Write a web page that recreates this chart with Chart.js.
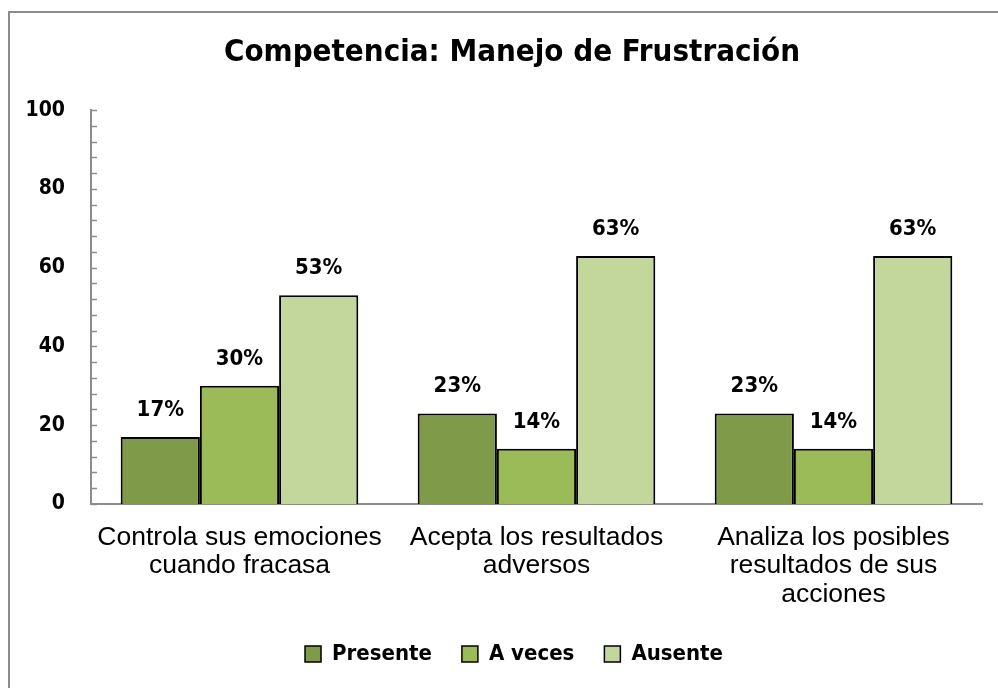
<!DOCTYPE html>
<html><head><meta charset="utf-8">
<script src="https://cdn.jsdelivr.net/npm/chart.js@4.4.1/dist/chart.umd.min.js"></script>
<style>html,body{margin:0;padding:0;background:#fff}#wrap{width:998px;height:688px;position:relative}</style>
</head><body><div id="wrap"><canvas id="c" width="998" height="688"></canvas></div>
<script>
const categories = [["Controla sus emociones","cuando fracasa"],["Acepta los resultados","adversos"],["Analiza los posibles","resultados de sus","acciones"]];
const seriesNames = ["Presente","A veces","Ausente"];
const presente = [17,23,23];
const aVeces = [30,14,14];
const ausente = [53,63,63];
const yTickLabels = [0,20,40,60,80,100];
const seriesColors = ["#7F9A48","#9BBB59","#C3D69B"];

const NARROW = "'Liberation Sans Narrow','DejaVu Sans Condensed','Arial Narrow',sans-serif";
const REG = "'Liberation Sans',Arial,sans-serif";

const framePlugin = {
  id:'frame',
  beforeDraw(chart){
    const ctx = chart.ctx;
    ctx.save();
    ctx.fillStyle='#fff';
    ctx.fillRect(0,0,chart.width,chart.height);
    ctx.strokeStyle='#8c8c8c';
    ctx.lineWidth=2;
    ctx.beginPath();
    ctx.moveTo(9, chart.height+5); ctx.lineTo(9,12); ctx.lineTo(chart.width+5,12);
    ctx.stroke();
    ctx.restore();
  }
};
// shift title and legend boxes to be centred like the original (whose frame extends to the right)
const shiftBoxes = {
  id:'shiftBoxes',
  afterLayout(chart){
    [[chart.titleBlock,21],[chart.legend,23]].forEach(([b,d])=>{
      if(b){ b.left += d; b.right += d; }
    });
  }
};
const innerTicks = {
  id:'innerTicks',
  afterDraw(chart){
    const y = chart.scales.y, ctx = chart.ctx, left = chart.chartArea.left;
    ctx.save();
    ctx.strokeStyle='#8c8c8c'; ctx.lineWidth=1.5;
    y.ticks.forEach(t=>{
      const py = Math.round(y.getPixelForValue(t.value))+0.5;
      ctx.beginPath(); ctx.moveTo(left,py); ctx.lineTo(left+6,py); ctx.stroke();
    });
    ctx.restore();
  }
};
const barLabels = {
  id:'barLabels',
  afterDatasetsDraw(chart){
    const ctx = chart.ctx;
    ctx.save();
    ctx.font = "bold 22px " + NARROW;
    ctx.fillStyle='#000'; ctx.textAlign='center'; ctx.textBaseline='middle';
    chart.data.datasets.forEach((ds,i)=>{
      chart.getDatasetMeta(i).data.forEach((el,j)=>{
        ctx.fillText(ds.data[j]+'%', el.x, el.y-27);
      });
    });
    ctx.restore();
  }
};

new Chart(document.getElementById('c'),{
  type:'bar',
  data:{
    labels: categories,
    datasets: seriesNames.map((n,i)=>({
      label:n,
      data:[presente,aVeces,ausente][i],
      backgroundColor:seriesColors[i],
      borderColor:'#000',
      borderWidth:2,
      categoryPercentage:0.8,
      barPercentage:1.0
    }))
  },
  options:{
    responsive:false,
    animation:false,
    layout:{padding:{left:0,right:16,top:0,bottom:13}},
    plugins:{
      title:{display:true,text:'Competencia: Manejo de Frustración',color:'#000',
        font:{family:NARROW,size:31,weight:'bold',lineHeight:1.2},padding:{top:34,bottom:39}},
      legend:{position:'bottom',
        labels:{color:'#000',font:{family:NARROW,size:22,weight:'bold'},boxWidth:16,boxHeight:16,padding:30,
          generateLabels(chart){
            return chart.data.datasets.map((ds,i)=>({text:ds.label,fillStyle:ds.backgroundColor,strokeStyle:'#000',lineWidth:1.5,datasetIndex:i,fontColor:'#000'}));
          }}},
      tooltip:{enabled:false}
    },
    scales:{
      x:{
        grid:{display:false,drawTicks:false},
        border:{display:true,color:'#8c8c8c',width:2},
        ticks:{color:'#000',font:{family:REG,size:26.5,lineHeight:1.06},padding:20,maxRotation:0,autoSkip:false},
        afterFit(s){s.height=109;}
      },
      y:{
        min:0,max:100,
        grid:{display:false,drawTicks:false},
        border:{display:true,color:'#8c8c8c',width:2},
        ticks:{stepSize:4,autoSkip:false,color:'#000',font:{family:NARROW,size:21,weight:'bold'},padding:26,
          callback:(v)=> yTickLabels.includes(v) ? String(v) : ''},
        afterFit(s){s.width=91;}
      }
    }
  },
  plugins:[framePlugin,shiftBoxes,innerTicks,barLabels]
});
</script></body></html>
